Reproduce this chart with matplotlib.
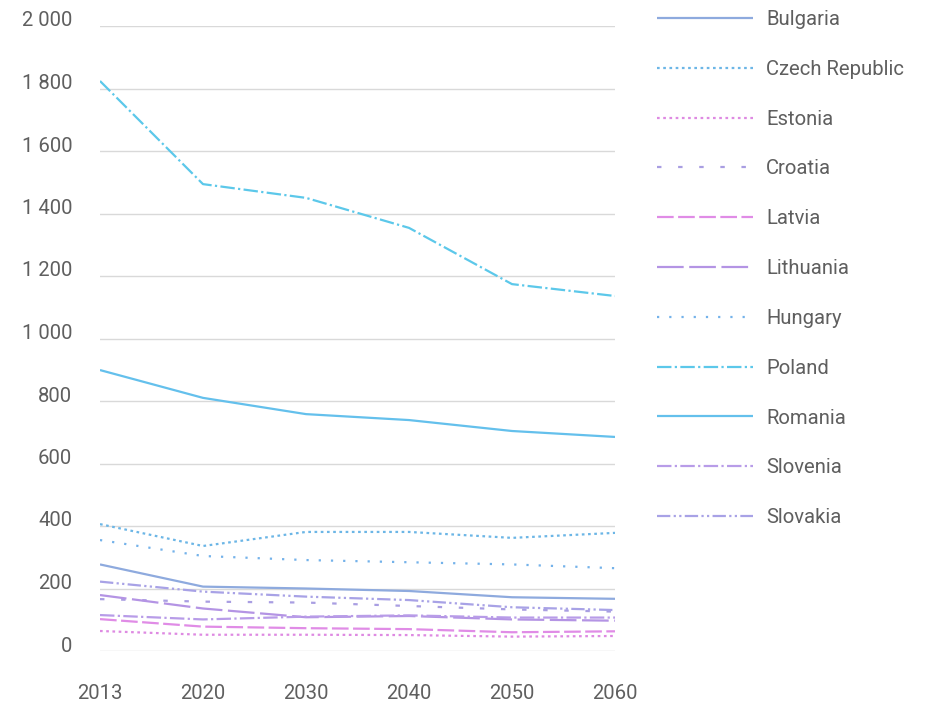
import matplotlib.pyplot as plt
import matplotlib.transforms as mtransforms

years = ["2013", "2020", "2030", "2040", "2050", "2060"]

bulgaria = [277, 206, 200, 192, 172, 167]
czech = [406, 336, 381, 381, 362, 378]
estonia = [64, 52, 52, 51, 46, 48]
croatia = [166, 158, 155, 144, 133, 126]
latvia = [102, 78, 73, 70, 60, 63]
lithuania = [179, 136, 108, 112, 101, 97]
hungary = [355, 304, 291, 284, 277, 265]
poland = [1824, 1494, 1450, 1354, 1174, 1136]
romania = [899, 810, 758, 739, 704, 685]
slovenia = [115, 101, 110, 114, 107, 107]
slovakia = [222, 190, 174, 163, 140, 131]

series = [
    ("Bulgaria", bulgaria, "#8eaade", (None, None)),
    ("Czech Republic", czech, "#6cb6e6", (0, (1.2, 1.6))),
    ("Estonia", estonia, "#de8ae2", (0, (1.2, 1.6))),
    ("Croatia", croatia, "#a99ee2", (0, (2, 7.5))),
    ("Latvia", latvia, "#e08ce6", (0, (7.5, 2))),
    ("Lithuania", lithuania, "#b494e4", (0, (12, 2.5))),
    ("Hungary", hungary, "#74b2ea", (0, (1, 4.5))),
    ("Poland", poland, "#5cc8ea", (0, (6.5, 1.5, 1, 1.5))),
    ("Romania", romania, "#64c0ec", (None, None)),
    ("Slovenia", slovenia, "#b89ce8", (0, (6.5, 1.5, 1, 1.5))),
    ("Slovakia", slovakia, "#a8a2e6", (0, (6, 1.5, 1, 1.5, 1, 1.5))),
]

plt.rcParams['font.family'] = ['Roboto', 'DejaVu Sans']
fs = 14.6
txt_color = '#5f5f5f'

fig = plt.figure(figsize=(9.31, 7.03), dpi=100)
ax = fig.add_axes([100 / 931, 1 - 651 / 703, 515 / 931, 625 / 703])

x = range(len(years))
for name, vals, color, ls in series:
    if ls[0] is None:
        ax.plot(x, vals, color=color, lw=1.6, label=name, solid_capstyle='butt')
    else:
        ax.plot(x, vals, color=color, lw=1.6, linestyle=ls, label=name)

ax.set_xlim(0, len(years) - 1)
ax.set_ylim(0, 2000)
ax.set_yticks(range(0, 2001, 200))
ax.set_yticklabels(["0", "200", "400", "600", "800", "1 000", "1 200",
                    "1 400", "1 600", "1 800", "2 000"])
ax.set_xticks(list(x))
ax.set_xticklabels(years)
ax.grid(axis='y', color='#d9d9d9', lw=1)
ax.set_axisbelow(True)
for s in ax.spines.values():
    s.set_visible(False)
ax.tick_params(axis='both', length=0, labelsize=fs, colors=txt_color)
ax.tick_params(axis='y', pad=20)
ax.tick_params(axis='x', pad=24)

offset = mtransforms.ScaledTranslation(0, 7 / 100, fig.dpi_scale_trans)
for lbl in ax.get_yticklabels():
    lbl.set_transform(lbl.get_transform() + offset)

fig.legend(loc='upper left', bbox_to_anchor=(657 / 931, 1 - 10 / 703),
           frameon=False, fontsize=fs, handlelength=4.75, handletextpad=0.62,
           labelspacing=1.52, borderpad=0, borderaxespad=0,
           labelcolor=txt_color)

fig.savefig("out.png", dpi=100)
